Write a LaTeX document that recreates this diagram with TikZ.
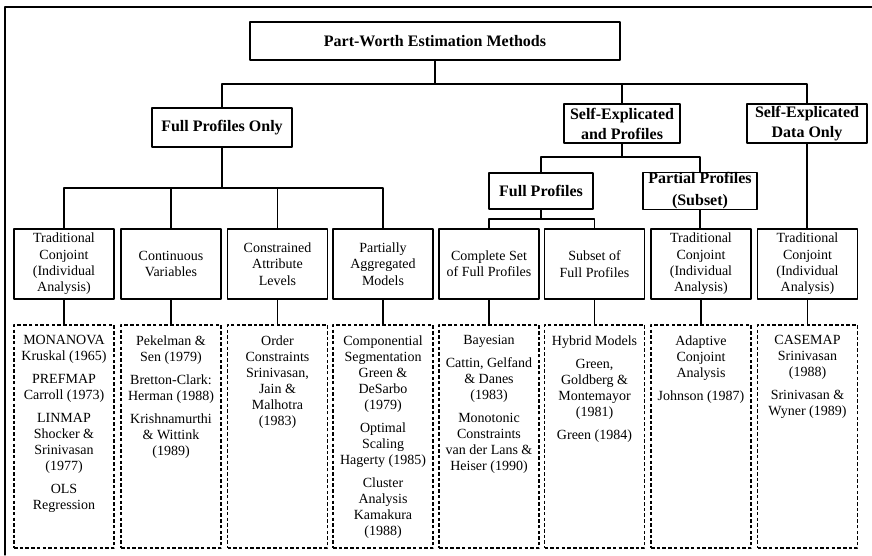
\documentclass[tikz,border=0pt]{standalone}
\usepackage{fontspec}
\setmainfont{Liberation Serif}
\usepackage{tikz}
\usetikzlibrary{calc}

\begin{document}
\begin{tikzpicture}[line cap=round,line join=round,x=1pt,y=-1pt,
  headbox/.style={draw,line width=1.2pt,inner sep=0pt,align=center,font=\fontsize{16}{20}\selectfont\bfseries},
  typebox/.style={draw,line width=1.3pt,inner sep=0pt,minimum width=100pt,minimum height=70pt,align=center,font=\fontsize{14}{16.4}\selectfont},
  refbox/.style={draw,line width=1.3pt,line cap=butt,dash pattern=on 3.5pt off 2.2pt,minimum width=100pt,minimum height=223pt,inner sep=0pt},
  reftext/.style={anchor=north,inner sep=0pt,yshift=-11pt,align=center,font=\fontsize{14}{16}\selectfont},
  link/.style={line width=1.3pt}]
\useasboundingbox (0,0) rectangle (872,555);
% frame
\draw [line width=1.2pt] (5,555) -- (5,7) -- (872,7);
% upper levels
\node [headbox,minimum width=370pt,minimum height=38pt] (pw) at (435,41) {Part-Worth Estimation Methods};
\node [headbox,minimum width=140pt,minimum height=39pt] (fpo) at (222,127.5) {Full Profiles Only};
\node [headbox,minimum width=116pt,minimum height=39pt] (sep) at (622,123.5) {Self-Explicated\\and Profiles};
\node [headbox,minimum width=120pt,minimum height=39pt] (sdo) at (807,123.5) {Self-Explicated\\Data Only};
\node [headbox,minimum width=104pt,minimum height=36pt] (fp) at (541,191) {Full Profiles};
\node [headbox,minimum width=114pt,minimum height=36pt] (pp) at (700,191) {Partial Profiles\\[2pt](Subset)};
% method types
\node [typebox] (t1) at (64,264) {Traditional\\Conjoint\\(Individual\\Analysis)};
\node [typebox] (t2) at (171,264) {Continuous\\Variables};
\node [typebox] (t3) at (277.5,264) {Constrained\\Attribute\\Levels};
\node [typebox] (t4) at (383,264) {Partially\\Aggregated\\Models};
\node [typebox] (t5) at (489,264) {Complete Set\\of Full Profiles};
\node [typebox] (t6) at (594.5,264) {Subset of\\Full Profiles};
\node [typebox] (t7) at (701,264) {Traditional\\Conjoint\\(Individual\\Analysis)};
\node [typebox] (t8) at (807.5,264) {Traditional\\Conjoint\\(Individual\\Analysis)};
% references
\node [refbox] (r1) at (64,436.5) {};
\node [refbox] (r2) at (171,436.5) {};
\node [refbox] (r3) at (277.5,436.5) {};
\node [refbox] (r4) at (383,436.5) {};
\node [refbox] (r5) at (489,436.5) {};
\node [refbox] (r6) at (594.5,436.5) {};
\node [refbox] (r7) at (701,436.5) {};
\node [refbox] (r8) at (807.5,436.5) {};
\node [reftext] (l1) at (r1.north) {MONANOVA\\Kruskal (1965)\\[7pt]PREFMAP\\Carroll (1973)\\[7pt]LINMAP\\Shocker \&\\Srinivasan\\(1977)\\[7pt]OLS\\Regression};
\node [reftext] (l2) at (r2.north) {Pekelman \&\\Sen (1979)\\[7pt]Bretton-Clark:\\Herman (1988)\\[7pt]Krishnamurthi\\\& Wittink\\(1989)};
\node [reftext] (l3) at (r3.north) {Order\\Constraints\\Srinivasan,\\Jain \&\\Malhotra\\(1983)};
\node [reftext] (l4) at (r4.north) {Componential\\Segmentation\\Green \&\\DeSarbo\\(1979)\\[7pt]Optimal\\Scaling\\Hagerty (1985)\\[7pt]Cluster\\Analysis\\Kamakura\\(1988)};
\node [reftext] (l5) at (r5.north) {Bayesian\\[7pt]Cattin, Gelfand\\\& Danes\\(1983)\\[7pt]Monotonic\\Constraints\\van der Lans \&\\Heiser (1990)};
\node [reftext] (l6) at (r6.north) {Hybrid Models\\[7pt]Green,\\Goldberg \&\\Montemayor\\(1981)\\[7pt]Green (1984)};
\node [reftext] (l7) at (r7.north) {Adaptive\\Conjoint\\Analysis\\[7pt]Johnson (1987)};
\node [reftext] (l8) at (r8.north) {CASEMAP\\Srinivasan\\(1988)\\[7pt]Srinivasan \&\\Wyner (1989)};
% connectors
\coordinate (b0) at (435,84);
\draw [link] (pw) -- (b0);
\draw [link] (fpo) |- (b0) -| (sdo);
\draw [link] (sep) -- (sep |- b0);
\coordinate (b1) at (222,188);
\draw [link] (fpo) -- (b1);
\draw [link] (t1) |- (b1) -| (t4);
\draw [link] (t2) -- (t2 |- b1);
\draw [link] (t3) -- (t3 |- b1);
\coordinate (b2) at (622,157);
\draw [link] (sep) -- (b2);
\draw [link] (fp) |- (b2) -| (pp);
\coordinate (b3) at (541,219);
\draw [link] (fp) -- (b3);
\draw [link] (t5) |- (b3) -| (t6);
\draw [link] (pp) -- (pp |- t7.north);
\draw [link] (sdo) -- (sdo |- t8.north);
\foreach \i in {1,...,8} \draw [link] (t\i) -- (r\i);
\end{tikzpicture}
\end{document}
